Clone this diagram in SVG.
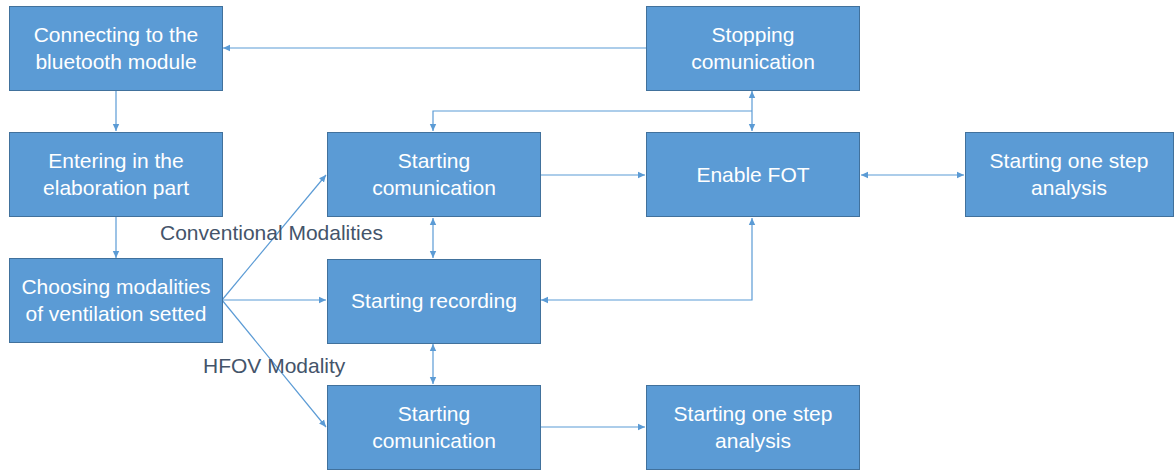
<svg xmlns="http://www.w3.org/2000/svg" width="1174" height="470" viewBox="0 0 1174 470">
<defs>
<style>
.box{fill:#5B9BD5;stroke:#41719C;stroke-width:1}
.t{font-family:"Liberation Sans",Arial,sans-serif;font-size:21px;fill:#ffffff;text-anchor:middle}
.lbl{font-family:"Liberation Sans",Arial,sans-serif;font-size:21px;fill:#44546A}
.c{fill:none;stroke:#5B9BD5;stroke-width:1.2}
</style>
<marker id="ah" markerWidth="8" markerHeight="8" refX="7" refY="4" orient="auto" markerUnits="userSpaceOnUse">
<path d="M0,0.8 L7,4 L0,7.2 Z" fill="#5B9BD5"/>
</marker>
<marker id="as" markerWidth="8" markerHeight="8" refX="0" refY="4" orient="auto" markerUnits="userSpaceOnUse">
<path d="M7,0.8 L0,4 L7,7.2 Z" fill="#5B9BD5"/>
</marker>
</defs>
<rect width="1174" height="470" fill="#ffffff"/>
<g id="connectors">
<path class="c" d="M646,48 H223" marker-end="url(#ah)"/>
<path class="c" d="M116,90 V131" marker-end="url(#ah)"/>
<path class="c" d="M116,216 V258" marker-end="url(#ah)"/>
<path class="c" d="M222,300 L326,175" marker-end="url(#ah)"/>
<path class="c" d="M222,300 H326" marker-end="url(#ah)"/>
<path class="c" d="M222,300 L326,427" marker-end="url(#ah)"/>
<path class="c" d="M752,111 H433 V131" marker-end="url(#ah)"/>
<path class="c" d="M752,91 V131" marker-start="url(#as)" marker-end="url(#ah)"/>
<path class="c" d="M540,175 H645" marker-end="url(#ah)"/>
<path class="c" d="M433,218 V258" marker-start="url(#as)" marker-end="url(#ah)"/>
<path class="c" d="M752,218 V300 H541" marker-start="url(#as)" marker-end="url(#ah)"/>
<path class="c" d="M861,175 H964" marker-start="url(#as)" marker-end="url(#ah)"/>
<path class="c" d="M433,344 V384" marker-start="url(#as)" marker-end="url(#ah)"/>
<path class="c" d="M540,427 H645" marker-end="url(#ah)"/>
</g>
<g id="n1"><rect class="box" x="9.5" y="6.5" width="213" height="84"/><text class="t" x="116" y="42">Connecting to the</text><text class="t" x="116" y="69">bluetooth module</text></g>
<g id="n2"><rect class="box" x="9.5" y="132.5" width="213" height="84"/><text class="t" x="116" y="168">Entering in the</text><text class="t" x="116" y="195">elaboration part</text></g>
<g id="n3"><rect class="box" x="9.5" y="258.5" width="213" height="84"/><text class="t" x="116" y="294">Choosing modalities</text><text class="t" x="116" y="321">of ventilation setted</text></g>
<g id="n4"><rect class="box" x="327.5" y="132.5" width="213" height="84"/><text class="t" x="434" y="168">Starting</text><text class="t" x="434" y="195">comunication</text></g>
<g id="n5"><rect class="box" x="327.5" y="259.5" width="213" height="84"/><text class="t" x="434" y="308">Starting recording</text></g>
<g id="n6"><rect class="box" x="327.5" y="385.5" width="213" height="84"/><text class="t" x="434" y="421">Starting</text><text class="t" x="434" y="448">comunication</text></g>
<g id="n7"><rect class="box" x="646.5" y="6.5" width="213" height="84"/><text class="t" x="753" y="42">Stopping</text><text class="t" x="753" y="69">comunication</text></g>
<g id="n8"><rect class="box" x="646.5" y="132.5" width="213" height="84"/><text class="t" x="753" y="182">Enable FOT</text></g>
<g id="n9"><rect class="box" x="965.5" y="132.5" width="208" height="84"/><text class="t" x="1069" y="168">Starting one step</text><text class="t" x="1069" y="195">analysis</text></g>
<g id="n10"><rect class="box" x="646.5" y="385.5" width="213" height="84"/><text class="t" x="753" y="421">Starting one step</text><text class="t" x="753" y="448">analysis</text></g>
<g id="labels"><text class="lbl" x="160" y="240">Conventional Modalities</text><text class="lbl" x="203" y="373">HFOV Modality</text></g>
</svg>
